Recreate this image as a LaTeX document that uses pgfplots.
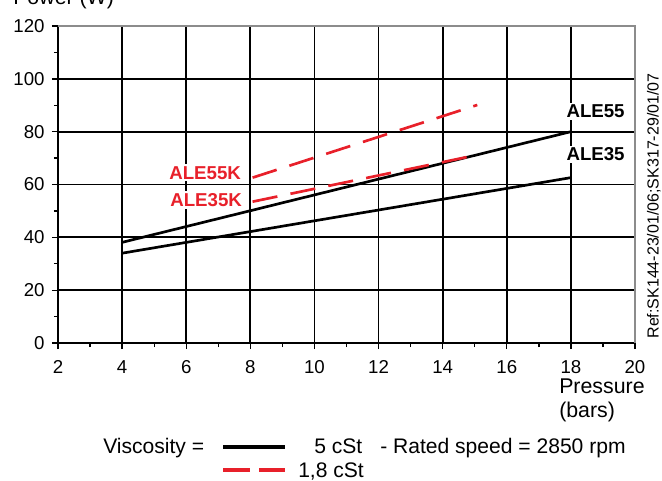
\documentclass[border=0pt]{standalone}
\usepackage{pgfplots}
\pgfplotsset{compat=1.18}
\usepackage{fontspec}
\setmainfont{Liberation Sans}
\definecolor{myred}{HTML}{E8202A}
\definecolor{bordergray}{HTML}{8C8C8C}
\begin{document}
\begin{tikzpicture}
\path[use as bounding box] (0,0) rectangle (496.5pt,360pt);
\begin{axis}[
  at={(43.5pt,102.75pt)}, anchor=south west,
  scale only axis, width=432.75pt, height=237.75pt,
  xmin=2, xmax=20, ymin=0, ymax=120,
  xtick={2,4,...,20}, ytick={0,20,...,120},
  minor xtick={3,5,...,19}, minor ytick={10,30,...,110},
  grid=major, major grid style={black, line width=1.3pt},
  axis x line*=bottom, axis y line*=left,
  axis line style={black, line width=1.3pt, -},
  tick align=outside,
  major tick length=4.5pt, minor tick length=3pt,
  every tick/.style={black, line width=1pt},
  tick label style={font=\fontsize{14}{16}\selectfont},
  xticklabel style={yshift=-5pt},
  yticklabel style={xshift=-2pt},
  /pgf/number format/assume math mode=true,
  clip=false,
]
% top and right borders in gray
\draw[white, line width=1.9pt] (axis cs:2,120) -- (axis cs:20,120) -- (axis cs:20,0);
\draw[bordergray, line width=0.9pt] (axis cs:2,120) -- (axis cs:20,120) -- (axis cs:20,0);
% 5 cSt (black solid)
\addplot[black, line width=2pt] coordinates {(4,38.1) (18,80.0)};
\addplot[black, line width=2pt] coordinates {(4,34.0) (18,62.6)};
% 1,8 cSt (red dashed)
\addplot[myred, line width=2pt, dash pattern=on 19pt off 10pt] coordinates {(8.07,62.6) (15.08,90.1)};
\addplot[myred, line width=2pt, dash pattern=on 19pt off 10pt] coordinates {(8.07,53.5) (15.08,71.2)};
% labels
\node[fill=white, inner sep=1.5pt, text=myred, font=\fontsize{14}{16}\selectfont\bfseries] at (axis cs:6.59,64.4) {ALE55K};
\node[fill=white, inner sep=1.5pt, text=myred, font=\fontsize{14}{16}\selectfont\bfseries] at (axis cs:6.62,54.1) {ALE35K};
\node[fill=white, inner sep=1.5pt, text=black, font=\fontsize{14}{16}\selectfont\bfseries] at (axis cs:18.77,87.8) {ALE55};
\node[fill=white, inner sep=1.5pt, text=black, font=\fontsize{14}{16}\selectfont\bfseries] at (axis cs:18.77,71.5) {ALE35};
\end{axis}
\begin{scope}[x=0.75pt, y=-0.75pt, shift={(0,360pt)}]
\node[anchor=base west, inner sep=0pt, font=\fontsize{16}{18}\selectfont] at (13,5) {Power (W)};
\node[anchor=base west, inner sep=0pt, font=\fontsize{16}{18}\selectfont] at (559,393) {Pressure};
\node[anchor=base west, inner sep=0pt, font=\fontsize{16}{18}\selectfont] at (559,417) {(bars)};
\node[anchor=base, inner sep=0pt, rotate=90, font=\fontsize{12}{14}\selectfont] at (658.5,206) {Ref:SK144-23/01/06;SK317-29/01/07};
\node[anchor=base west, inner sep=0pt, font=\fontsize{15.8}{18}\selectfont] at (103,453) {Viscosity =};
\draw[black, line width=2.3pt] (223,447) -- (285,447);
\node[anchor=base west, inner sep=0pt, font=\fontsize{15.8}{18}\selectfont] at (314,453) {5 cSt};
\node[anchor=base west, inner sep=0pt, font=\fontsize{15.8}{18}\selectfont] at (380,453) {- Rated speed = 2850 rpm};
\draw[myred, line width=2.3pt, dash pattern=on 20.25pt off 6.75pt] (223,470) -- (285,470);
\node[anchor=base west, inner sep=0pt, font=\fontsize{15.8}{18}\selectfont] at (298,477) {1,8 cSt};
\end{scope}
\end{tikzpicture}
\end{document}
